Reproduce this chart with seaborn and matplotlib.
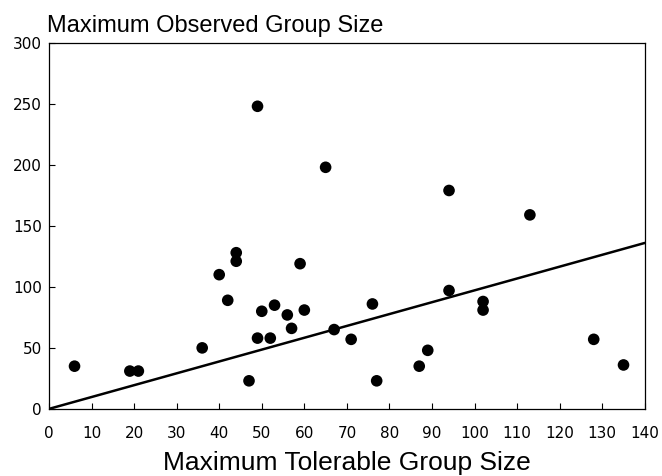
import numpy as np
import pandas as pd
import matplotlib
matplotlib.use("Agg")
import matplotlib.pyplot as plt
import seaborn as sns

# data
tolerable = [6, 19, 21, 36, 40, 42, 44, 44, 47, 49, 49, 50, 52, 53, 56, 57,
             59, 60, 65, 67, 71, 76, 77, 87, 89, 94, 94, 102, 102, 113, 128, 135]
observed = [35, 31, 31, 50, 110, 89, 128, 121, 23, 58, 248, 80, 58, 85, 77, 66,
            119, 81, 198, 65, 57, 86, 23, 35, 48, 97, 179, 88, 81, 159, 57, 36]
line_x = [0, 140]
line_y = [0, 136]

x_ticks = list(range(0, 141, 10))
y_ticks = list(range(0, 301, 50))

df = pd.DataFrame({"tolerable": tolerable, "observed": observed})
fit = pd.DataFrame({"x": line_x, "y": line_y})

sns.set_style("ticks")
plt.rcParams["font.family"] = ["Liberation Sans", "DejaVu Sans"]
plt.rcParams["text.color"] = "black"
plt.rcParams["axes.labelcolor"] = "black"
plt.rcParams["xtick.color"] = "black"
plt.rcParams["ytick.color"] = "black"

fig = plt.figure(figsize=(6.62, 4.76), dpi=100)
ax = fig.add_axes([0.074, 0.141, 0.9, 0.769])

sns.lineplot(data=fit, x="x", y="y", color="black", linewidth=1.8, ax=ax)
sns.scatterplot(data=df, x="tolerable", y="observed", color="black", s=70,
                edgecolor="none", ax=ax, zorder=3)

ax.set_xlim(0, 140)
ax.set_ylim(0, 300)
tick_font = dict(fontfamily="DejaVu Sans", fontsize=11, color="black")
ax.set_xticks(x_ticks, labels=[str(t) for t in x_ticks], **tick_font)
ax.set_yticks(y_ticks, labels=[str(t) for t in y_ticks], **tick_font)
ax.tick_params(direction="in", length=4, width=0.8, color="black")
ax.tick_params(axis="x", pad=12)
ax.tick_params(axis="y", pad=5)
for sp in ax.spines.values():
    sp.set_visible(True)
    sp.set_color("black")
    sp.set_linewidth(0.9)

ax.set_ylabel("")
ax.set_xlabel("Maximum Tolerable Group Size", fontsize=19)
ax.xaxis.label.set_va("baseline")
ax.xaxis.set_label_coords(0.5, -0.166)
fig.text(0.071, 0.932, "Maximum Observed Group Size", fontsize=17,
         ha="left", va="baseline")

fig.savefig("out.png", dpi=100)
